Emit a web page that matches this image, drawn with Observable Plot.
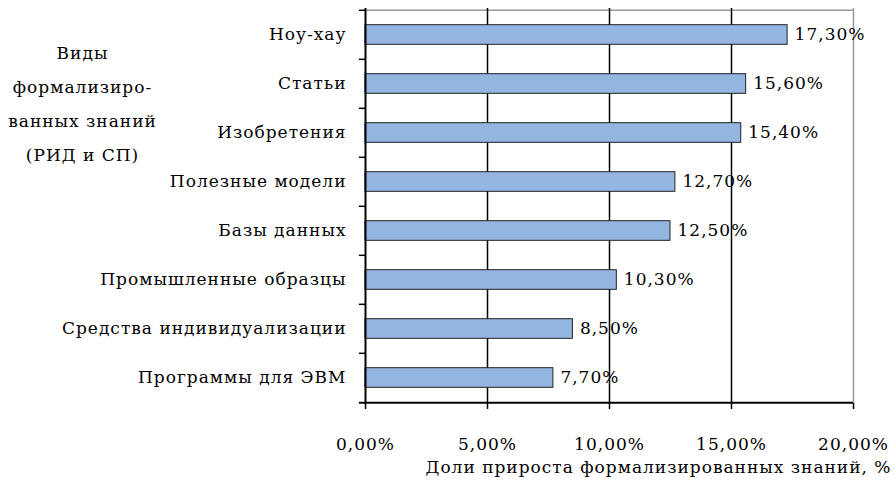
<!DOCTYPE html>
<html><head><meta charset="utf-8">
<script src="https://cdn.jsdelivr.net/npm/d3@7"></script>
<script src="https://cdn.jsdelivr.net/npm/@observablehq/plot@0.6"></script>
<style>body{margin:0;background:#fff;font-family:'DejaVu Serif',serif}</style>
</head><body><div id="chart"></div>
<script>
const categories = ["Ноу-хау","Статьи","Изобретения","Полезные модели","Базы данных","Промышленные образцы","Средства индивидуализации","Программы для ЭВМ"];
const values = [17.3,15.6,15.4,12.7,12.5,10.3,8.5,7.7];
const xTicks = [0,5,10,15,20];
const gridTicks = [5,10,15];
const titleLines = ["Виды","формализиро-","ванных знаний","(РИД и СП)"];
const xLabel = "Доли прироста формализированных знаний, %";

const data = categories.map((c,i)=>({category:c, value:values[i]}));
const fmt = v => v.toFixed(2).replace(".", ",") + "%";
const W=895, H=485, mt=8, mb=82, ml=365, mr=42;
const step=(H-mt-mb)/categories.length;
const barH = 20;
const ff = "DejaVu Serif";
const fs = 17;

const plot = Plot.plot({
  width:W, height:H, marginTop:mt, marginBottom:mb, marginLeft:ml, marginRight:mr,
  style:{fontFamily:ff, fontSize:fs+"px"},
  x:{domain:[0,20], axis:null},
  y:{domain:categories, padding:0, axis:null},
  marks:[
    Plot.ruleY([categories[0]], {dy:-step/2, x1:0, x2:20, stroke:"#999", strokeWidth:1.5}),
    Plot.ruleX([20], {stroke:"#999", strokeWidth:1.5}),
    Plot.ruleX(gridTicks, {stroke:"black", strokeWidth:1.5}),
    Plot.barX(data, {x:"value", y:"category", fill:"#95B5E1", stroke:"#222", strokeWidth:1, insetTop:(step-barH)/2, insetBottom:(step-barH)/2}),
    Plot.ruleX([0], {stroke:"black", strokeWidth:2}),
    Plot.ruleY(categories, {y:d=>d, dy:-step/2, x1:-0.25, x2:0, stroke:"black", strokeWidth:1.5}),
    Plot.ruleY([categories[categories.length-1]], {dy:step/2, x1:-0.25, x2:20, stroke:"black", strokeWidth:2}),
    Plot.axisX({ticks:xTicks, tickSize:6, tickPadding:28, tickFormat:fmt, label:null, fontSize:fs, strokeWidth:1.5}),
    Plot.text(data, {x:"value", y:"category", text:d=>fmt(d.value), textAnchor:"start", dx:7, fontSize:fs}),
    Plot.text(data, {x:0, y:"category", text:"category", textAnchor:"end", dx:-19, fontSize:fs}),
    Plot.text([titleLines.join("\n")], {frameAnchor:"top-left", text:d=>d, textAnchor:"middle", lineAnchor:"top", lineHeight:2.0, dx:-283, dy:26, fontSize:fs}),
    Plot.text([xLabel], {frameAnchor:"bottom-right", text:d=>d, textAnchor:"end", dx:38, dy:69, fontSize:fs})
  ]
});
d3.select(plot).selectAll("text").style("font-family", "'DejaVu Serif', serif").style("letter-spacing", "1px");
document.getElementById("chart").appendChild(plot);
</script>
</body></html>
